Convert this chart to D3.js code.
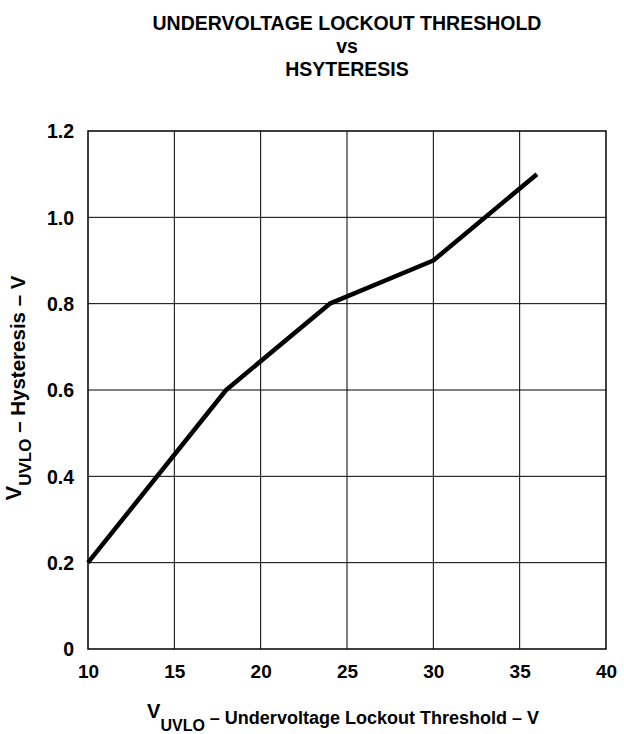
<html><head>
<script src="https://d3js.org/d3.v7.min.js"></script>
<style>
  body { margin: 0; background: #fff; }
  text { font-family: "Liberation Sans", Arial, sans-serif; font-weight: bold; fill: #000; }
</style>
</head>
<body>
<svg id="graph" width="624" height="734"></svg>
<script>
// data
const threshold = [10, 18, 24, 30, 36];
const hysteresis = [0.2, 0.6, 0.8, 0.9, 1.1];
const xTicks = [10, 15, 20, 25, 30, 35, 40];
const yTicks = [0, 0.2, 0.4, 0.6, 0.8, 1.0, 1.2];
const titleLines = ["UNDERVOLTAGE LOCKOUT THRESHOLD", "vs", "HSYTERESIS"];

const svg = d3.select("#graph");
const plotL = 88, plotR = 606, plotT = 131, plotB = 649;

const x = d3.scaleLinear().domain([10, 40]).range([plotL, plotR]);
const y = d3.scaleLinear().domain([0, 1.2]).range([plotB, plotT]);

// title
svg.selectAll(".title").data(titleLines).join("text")
    .attr("class", "title")
    .attr("x", 347)
    .attr("y", (d, i) => 29.5 + i * 23)
    .attr("text-anchor", "middle")
    .attr("font-size", 19.5)
    .text(d => d);

// grid
const grid = svg.append("g");
grid.selectAll(".vg").data(xTicks.slice(1, -1)).join("line")
    .attr("x1", d => x(d)).attr("x2", d => x(d))
    .attr("y1", plotT).attr("y2", plotB)
    .attr("stroke", "#000").attr("stroke-width", 1);
grid.selectAll(".hg").data(yTicks.slice(1, -1)).join("line")
    .attr("x1", plotL).attr("x2", plotR)
    .attr("y1", d => y(d)).attr("y2", d => y(d))
    .attr("stroke", "#000").attr("stroke-width", 1);
svg.append("rect")
    .attr("x", plotL).attr("y", plotT)
    .attr("width", plotR - plotL).attr("height", plotB - plotT)
    .attr("fill", "none").attr("stroke", "#000").attr("stroke-width", 1.5);

// tick labels
const xAxis = d3.axisBottom(x).tickValues(xTicks).tickSize(0).tickPadding(0).tickFormat(d3.format("d"));
const xg = svg.append("g").attr("transform", `translate(0,${plotB})`).call(xAxis);
xg.select(".domain").remove();
xg.selectAll("text").attr("font-size", 19).attr("dy", null).attr("y", 29)
    .style("font-family", "Liberation Sans, Arial, sans-serif").style("font-weight", "bold");

const yAxis = d3.axisLeft(y).tickValues(yTicks).tickSize(0).tickPadding(14)
    .tickFormat(d => d === 0 ? "0" : d3.format(".1f")(d));
const yg = svg.append("g").attr("transform", `translate(${plotL},0)`).call(yAxis);
yg.select(".domain").remove();
yg.selectAll("text").attr("font-size", 19.5).attr("dy", "0.35em")
    .style("font-family", "Liberation Sans, Arial, sans-serif").style("font-weight", "bold");

// curve
const pts = threshold.map((t, i) => [t, hysteresis[i]]);
svg.append("path")
    .datum(pts)
    .attr("fill", "none")
    .attr("stroke", "#000")
    .attr("stroke-width", 4.5)
    .attr("stroke-linejoin", "round")
    .attr("d", d3.line().x(d => x(d[0])).y(d => y(d[1])));

// axis titles
const xl = svg.append("text")
    .attr("x", 343).attr("y", 724)
    .attr("text-anchor", "middle")
    .attr("font-size", 18);
xl.append("tspan").attr("font-size", 20).attr("dy", -6).text("V");
xl.append("tspan").attr("font-size", 16).attr("dy", 13).text("UVLO");
xl.append("tspan").attr("dy", -7).text(" \u2013 Undervoltage Lockout Threshold \u2013 V");

const yl = svg.append("text")
    .attr("transform", "translate(25,388) rotate(-90)")
    .attr("text-anchor", "middle")
    .attr("font-size", 20.5);
yl.append("tspan").attr("font-size", 22).attr("dy", -4).text("V");
yl.append("tspan").attr("font-size", 17).attr("dy", 10).text("UVLO");
yl.append("tspan").attr("dy", -6).text(" \u2013 Hysteresis \u2013 V");
</script>
</body>
</html>
